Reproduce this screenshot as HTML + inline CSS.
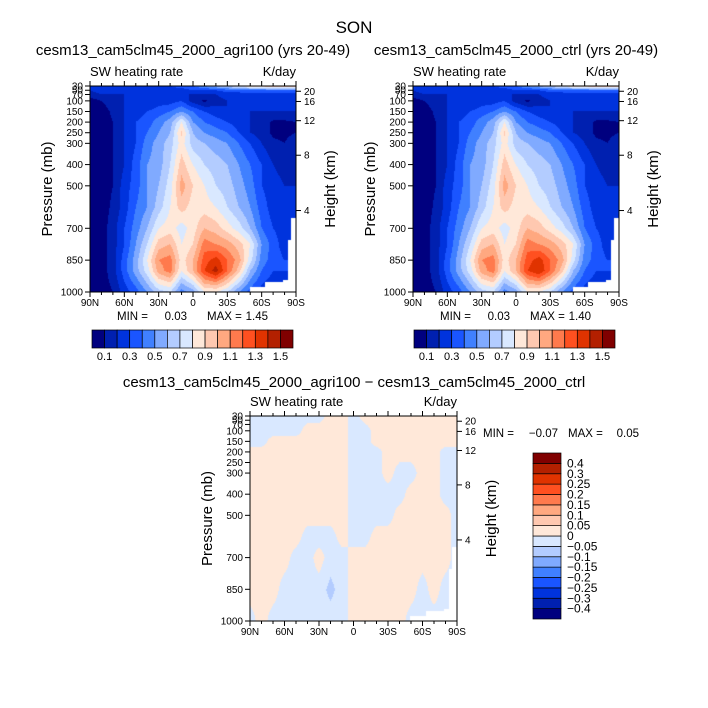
<!DOCTYPE html>
<html><head><meta charset="utf-8">
<style>
html,body{margin:0;padding:0;background:#fff;}
#wrap{position:relative;width:708px;height:708px;overflow:hidden;font-family:"Liberation Sans",sans-serif;}
canvas{position:absolute;}
svg{position:absolute;left:0;top:0;}
text{white-space:pre;}
</style></head>
<body>
<div id="wrap">
<canvas id="c1" width="206" height="206" style="left:90px;top:86px"></canvas>
<canvas id="c2" width="206" height="206" style="left:413px;top:86px"></canvas>
<canvas id="c3" width="207" height="205" style="left:250px;top:416px"></canvas>
<svg id="s" width="708" height="708"></svg>
</div>
<script>
// ---- data ----
const lats = [90,80,70,60,50,40,30,20,10,0,-10,-20,-30,-40,-50,-60,-70,-80,-90];
const levels = [30,50,70,100,150,200,250,300,400,500,600,700,775,850,900,1000];
const agriField = [
[.3,.3,.3,.3,.3,.3,.3,.3,.35,.4,.5,.6,.7,.8,.9,.95,1.0,1.0,1.0],
[.2,.25,.25,.25,.25,.25,.25,.25,.25,.3,.3,.3,.35,.35,.4,.4,.4,.4,.4],
[.15,.2,.2,.2,.2,.2,.2,.2,.2,.2,.2,.2,.25,.25,.25,.25,.25,.25,.25],
[.05,.1,.15,.2,.2,.2,.25,.25,.3,.15,.08,.15,.2,.2,.2,.2,.2,.2,.2],
[.05,.05,.12,.2,.25,.3,.35,.4,.5,.4,.3,.25,.2,.2,.2,.2,.2,.2,.2],
[.05,.05,.1,.2,.3,.35,.45,.55,.8,.5,.4,.35,.3,.25,.2,.15,.08,.08,.1],
[.05,.05,.1,.2,.3,.4,.5,.6,.92,.6,.5,.45,.4,.3,.2,.15,.08,.08,.1],
[.05,.05,.1,.2,.3,.45,.55,.65,.85,.65,.6,.55,.5,.4,.3,.2,.12,.1,.15],
[.05,.05,.1,.2,.35,.5,.55,.7,.95,.8,.7,.65,.6,.5,.4,.3,.2,.15,.2],
[.05,.05,.1,.25,.35,.5,.6,.75,1.05,.9,.8,.7,.65,.55,.45,.3,.25,.2,.2],
[.05,.05,.12,.25,.4,.5,.65,.8,.95,.85,.85,.8,.7,.6,.5,.35,.25,.25,.25],
[.05,.05,.15,.3,.45,.6,.8,.85,.75,.85,1.0,.95,.85,.75,.6,.4,.3,.25,.25],
[.05,.05,.15,.3,.5,.7,.95,1.0,.8,.9,1.15,1.1,1.05,.95,.8,.5,.35,.25,.25],
[.05,.05,.15,.35,.55,.8,1.1,1.15,.85,1.0,1.25,1.35,1.2,1.05,.75,.45,.35,.3,.3],
[.05,.05,.15,.35,.55,.75,1.05,1.15,.8,1.0,1.3,1.45,1.2,.95,.6,.4,.3,.3,.3],
[.05,.05,.1,.25,.35,.5,.65,.7,.45,.55,.8,.8,.7,.5,.35,.25,.2,.2,.2]];
const ctrlField = agriField.map(r => r.map(v => Math.min(v, 1.40)));
const diffLevels = [30,100,150,200,300,400,500,600,700,850,1000];
const diffField = [
[-1,-1,-1,-1,-1,-1,-1,1,1,-1,1,1,1,1,1,1,1,1,1],
[-1,-1,-1,-1,-1,1,1,1,1,-1,-1,1,1,1,1,1,1,1,1],
[-1,-1,1,1,1,1,1,1,1,-1,-1,1,1,1,1,1,1,1,1],
[1,1,1,1,1,1,1,1,1,-1,-1,-1,1,1,1,1,1,-1,-1],
[1,1,1,1,1,1,1,1,1,-1,-1,-1,1,-1,-1,1,1,-1,-1],
[1,1,1,1,1,1,1,1,1,-1,-1,-1,-1,-1,1,1,1,-1,-1],
[1,1,1,1,1,1,1,1,1,-1,-1,-1,-1,1,1,1,1,1,-1],
[1,1,1,1,1,-1,-1,-1,1,-1,-1,1,1,1,1,1,1,1,-1],
[1,1,1,1,-1,-1,1,-1,-1,1,1,1,1,1,1,1,1,1,-1],
[1,1,1,-1,-1,-1,-1,-2.6,-1,1,1,1,1,1,1,-1,1,-1,-1],
[-1,1,-1,-1,-1,-1,-1,-1,-1,1,1,1,1,1,-1,-1,-1,-1,-1]].map(r=>r.map(v=>v*0.025));
const fieldLevels = [0.1,0.2,0.3,0.4,0.5,0.6,0.7,0.8,0.9,1.0,1.1,1.2,1.3,1.4,1.5];
const fieldLabels = ["0.1","0.3","0.5","0.7","0.9","1.1","1.3","1.5"];
const diffCuts = [-0.4,-0.3,-0.25,-0.2,-0.15,-0.1,-0.05,0,0.05,0.1,0.15,0.2,0.25,0.3,0.4];
const diffLabels = ["-0.4","-0.3","-0.25","-0.2","-0.15","-0.1","-0.05","0","0.05","0.1","0.15","0.2","0.25","0.3","0.4"];
const colors = ["#00007f","#0020b0","#0033dd","#1a55ff","#4080ff","#80aaff","#b3ccff","#d9e8ff","#ffe8d9","#ffc8b0","#ffa880","#ff7a4d","#ff5020","#e03300","#b32000","#800000"];
const pTicks = [30,50,70,100,150,200,250,300,400,500,700,850,1000];
const hTicks = [4,8,12,16,20];
const latTicks = [90,60,30,0,-30,-60,-90];
const latLabels = ["90N","60N","30N","0","30S","60S","90S"];

// ---- helpers ----
function hexRGB(h){return [parseInt(h.substr(1,2),16),parseInt(h.substr(3,2),16),parseInt(h.substr(5,2),16)];}
const rgb = colors.map(hexRGB);
function colorIdx(v,cuts){let i=0;while(i<cuts.length&&v>=cuts[i])i++;return i;}
function interp(field,levs,lat,p){
  const fx=(90-lat)/10; let i0=Math.min(Math.floor(fx),17); const tx=fx-i0;
  let j=0; while(j<levs.length-2&&p>levs[j+1])j++;
  const ty=(p-levs[j])/(levs[j+1]-levs[j]);
  const a=field[j][i0]*(1-tx)+field[j][i0+1]*tx;
  const b=field[j+1][i0]*(1-tx)+field[j+1][i0+1]*tx;
  return a*(1-ty)+b*ty;
}
function missing(f,p){
  return (f>0.977&&p>650)||(f>0.96&&p>755)||(f>0.935&&p>945)||(f>0.85&&p>953)||(f>0.775&&p>976);
}
function drawField(id,field,levs,cuts){
  const c=document.getElementById(id),ctx=c.getContext('2d');
  const W=c.width,H=c.height,img=ctx.createImageData(W,H);
  for(let y=0;y<H;y++){
    const p=30+(y+0.5)/H*970;
    for(let x=0;x<W;x++){
      const f=(x+0.5)/W, lat=90-180*f, k=(y*W+x)*4;
      let col=[255,255,255];
      if(!missing(f,p)) col=rgb[colorIdx(interp(field,levs,lat,p),cuts)];
      img.data[k]=col[0];img.data[k+1]=col[1];img.data[k+2]=col[2];img.data[k+3]=255;
    }
  }
  ctx.putImageData(img,0,0);
}
drawField('c1',agriField,levels,fieldLevels);
drawField('c2',ctrlField,levels,fieldLevels);
drawField('c3',diffField,diffLevels,diffCuts);

const S=document.getElementById('s'),NS="http://www.w3.org/2000/svg";
function el(tag,attrs,text){const e=document.createElementNS(NS,tag);for(const k in attrs)e.setAttribute(k,attrs[k]);if(text!==undefined)e.textContent=text;S.appendChild(e);return e;}
function txt(x,y,s,size,anchor,name,rot){
  const a={x:x,y:y,'font-size':size,'text-anchor':anchor||'start',fill:'#000','font-family':'Liberation Sans, sans-serif'};
  if(rot)a.transform='rotate(-90 '+x+' '+y+')';
  const e=el('text',a,s);
  
  
  return e;
}
function hToP(z){z*=1000;if(z<=11000)return 1013.25*Math.pow(1-2.25577e-5*z,5.25588);return 226.32*Math.exp(-(z-11000)/6341.6);}

function axes(x0,y0,w,h,name){
  const xs=lat=>x0+(90-lat)/180*w, ys=p=>y0+(p-30)/970*h;
  const g=el('rect',{x:x0,y:y0,width:w,height:h,fill:'none',stroke:'#000','stroke-width':1});
  
  
  for(let lat=90;lat>=-90;lat-=10){
    const major=lat%30===0, L=major?5:3;
    el('line',{x1:xs(lat),x2:xs(lat),y1:y0+h,y2:y0+h+L,stroke:'#000'});
    el('line',{x1:xs(lat),x2:xs(lat),y1:y0,y2:y0-L,stroke:'#000'});
  }
  latTicks.forEach((t,i)=>txt(xs(t),y0+h+14,latLabels[i],10,'middle',name+'-x-tick-label'));
  pTicks.forEach(p=>{
    el('line',{x1:x0-5,x2:x0,y1:ys(p),y2:ys(p),stroke:'#000'});
    txt(x0-7,ys(p)+3.5,String(p),10,'end',name+'-y-tick-label');
  });
  hTicks.forEach(z=>{
    const y=ys(hToP(z));
    el('line',{x1:x0+w,x2:x0+w+5,y1:y,y2:y,stroke:'#000'});
    txt(x0+w+8,y+3.5,String(z),10,'start',name+'-height-tick-label');
  });
  txt(x0-38,y0+h/2,'Pressure (mb)',15,'middle',name+'-y-axis-title',true);
  txt(x0+w+39,y0+h/2,'Height (km)',15,'middle',name+'-height-axis-title',true);
  txt(x0,y0-10,'SW heating rate',13,'start',name+'-variable-label');
  txt(x0+w,y0-10,'K/day',13,'end',name+'-units-label');
}
function panel(x0,y0,w,h,title,name,maxs){
  axes(x0,y0,w,h,name);
  txt(x0+w/2,y0-31,title,15,'middle',name+'-title');
  txt(x0+27,y0+h+28,'MIN =',11.5,'start',name+'-min-label');
  txt(x0+97,y0+h+28,'0.03',11.5,'end',name+'-min-value');
  txt(x0+117,y0+h+28,'MAX =',11.5,'start',name+'-max-label');
  txt(x0+178,y0+h+28,maxs,11.5,'end',name+'-max-value');
}
function hbar(x0,y0,w,h,name){
  const bw=w/16;
  for(let i=0;i<16;i++){
    const r=el('rect',{x:x0+i*bw,y:y0,width:bw,height:h,fill:colors[i],stroke:'#000','stroke-width':0.7});
    
    
  }
  fieldLabels.forEach((s,i)=>txt(x0+(2*i+1)*bw,y0+h+12,s,11,'middle',name+'-label'));
}
txt(354,33,'SON',17,'middle','figure-title');
panel(90,86,206,206,'cesm13_cam5clm45_2000_agri100 (yrs 20-49)','agri100','1.45');
panel(413,86,206,206,'cesm13_cam5clm45_2000_ctrl (yrs 20-49)','ctrl','1.40');
hbar(92,330,201,18,'agri100-colorbar');
hbar(414,330,201,18,'ctrl-colorbar');

// bottom panel
(function(){
  const x0=250,y0=416,w=207,h=205;
  axes(x0,y0,w,h,'difference');
  txt(354,387,'cesm13_cam5clm45_2000_agri100 \u2212 cesm13_cam5clm45_2000_ctrl',15,'middle','difference-title');
  txt(483,437,'MIN =',11.5,'start','difference-min-label');
  txt(558,437,'\u22120.07',11.5,'end','difference-min-value');
  txt(568,437,'MAX =',11.5,'start','difference-max-label');
  txt(639,437,'0.05',11.5,'end','difference-max-value');
  const bx=533,by=453,bw=28,bh=166/16;
  for(let i=0;i<16;i++){
    const r=el('rect',{x:bx,y:by+(15-i)*bh,width:bw,height:bh,fill:colors[i],stroke:'#000','stroke-width':0.7});
    
    
  }
  diffLabels.forEach((s,i)=>txt(bx+bw+6,by+(15-i)*bh+4,s.replace('-','\u2212'),12,'start','difference-colorbar-label'));
})();
</script>
</body></html>
